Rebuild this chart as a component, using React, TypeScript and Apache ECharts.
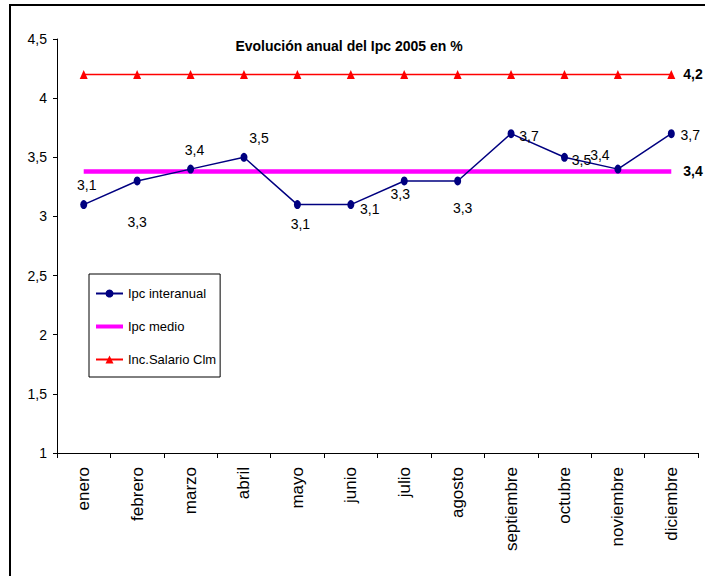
import React, { useEffect, useRef } from "react";
import * as echarts from "echarts";

// Meses del año
const months = [
  "enero", "febrero", "marzo", "abril", "mayo", "junio",
  "julio", "agosto", "septiembre", "octubre", "noviembre", "diciembre",
];

// Ipc interanual por mes (%)
const ipcInteranual = [3.1, 3.3, 3.4, 3.5, 3.1, 3.1, 3.3, 3.3, 3.7, 3.5, 3.4, 3.7];

// Ipc medio del año (%)
const ipcMedio = [3.38, 3.38, 3.38, 3.38, 3.38, 3.38, 3.38, 3.38, 3.38, 3.38, 3.38, 3.38];

// Incremento salarial (%)
const incSalario = [4.2, 4.2, 4.2, 4.2, 4.2, 4.2, 4.2, 4.2, 4.2, 4.2, 4.2, 4.2];

// Eje de valores
const yMin = 1;
const yMax = 4.5;
const yStep = 0.5;

// Desplazamiento de cada etiqueta del Ipc interanual respecto a su punto
const labelOffsets: [number, number][] = [
  [3, -20], [0, 41], [4, -19], [15, -19], [3, 19], [19, 4],
  [-4, 13], [5, 27], [18, 2], [17, 3], [-18, -14], [19, 1],
];

const SANS = '"Liberation Sans", Arial, sans-serif';

const fmt = (v: number) => v.toFixed(1).replace(".", ",");

export default function App() {
  const ref = useRef<HTMLDivElement>(null);

  useEffect(() => {
    if (!ref.current) return;
    const chart = echarts.init(ref.current, null, { renderer: "svg" });

    const option: echarts.EChartsOption = {
      animation: false,
      backgroundColor: "#ffffff",
      title: {
        text: "Evolución anual del Ipc 2005 en %",
        left: 344,
        top: 34,
        textAlign: "center",
        textStyle: { fontFamily: SANS, fontSize: 14, fontWeight: "bold", color: "#000" },
      },
      graphic: [
        {
          type: "rect",
          shape: { x: 10, y: 5, width: 800, height: 700 },
          style: { fill: "none", stroke: "#000", lineWidth: 2 },
          silent: true,
        },
      ],
      legend: {
        orient: "vertical",
        left: 89,
        top: 274,
        padding: [13, 4, 11, 6],
        itemGap: 20,
        itemWidth: 27,
        itemHeight: 10,
        backgroundColor: "#fff",
        borderColor: "#000",
        borderWidth: 1,
        borderRadius: 0,
        textStyle: { fontFamily: SANS, fontSize: 13, color: "#000" },
        data: [
          { name: "Ipc interanual" },
          {
            name: "Ipc medio",
            icon: "path://M0,0 L27,0 L27,4 L0,4 Z",
            itemStyle: { color: "#ff00ff" },
          },
          { name: "Inc.Salario Clm" },
        ],
      },
      grid: { left: 57, right: 7, top: 39, bottom: 123, containLabel: false },
      xAxis: {
        type: "category",
        data: months,
        boundaryGap: true,
        axisLine: { lineStyle: { color: "#000", width: 1 } },
        axisTick: { show: true, length: 5, alignWithLabel: false, lineStyle: { color: "#000" } },
        axisLabel: {
          interval: 0,
          rotate: 90,
          margin: 14,
          fontFamily: SANS,
          fontSize: 17,
          color: "#000",
        },
        splitLine: { show: false },
      },
      yAxis: {
        type: "value",
        min: yMin,
        max: yMax,
        interval: yStep,
        axisLine: { show: true, lineStyle: { color: "#000", width: 1 } },
        axisTick: { show: true, length: 4, lineStyle: { color: "#000" } },
        axisLabel: {
          margin: 10,
          fontFamily: SANS,
          fontSize: 14,
          color: "#000",
          formatter: (v: number) => String(v).replace(".", ","),
        },
        splitLine: { show: false },
      },
      series: [
        {
          name: "Inc.Salario Clm",
          type: "line",
          data: incSalario,
          symbol: "triangle",
          symbolSize: [8, 9],
          itemStyle: { color: "#ff0000" },
          lineStyle: { color: "#ff0000", width: 1.5 },
          endLabel: {
            show: true,
            distance: 12,
            formatter: (p: any) => fmt(p.value),
            fontFamily: SANS,
            fontSize: 14,
            fontWeight: "bold",
            color: "#000",
          },
          z: 2,
        },
        {
          name: "Ipc medio",
          type: "line",
          data: ipcMedio,
          symbol: "none",
          itemStyle: { color: "#ff00ff" },
          lineStyle: { color: "#ff00ff", width: 4.5 },
          endLabel: {
            show: true,
            distance: 12,
            formatter: (p: any) => fmt(p.value),
            fontFamily: SANS,
            fontSize: 14,
            fontWeight: "bold",
            color: "#000",
          },
          z: 2,
        },
        {
          name: "Ipc interanual",
          type: "line",
          symbol: "circle",
          symbolSize: [7, 9],
          itemStyle: { color: "#000080" },
          lineStyle: { color: "#000080", width: 1.5 },
          data: ipcInteranual.map((v, i) => ({
            value: v,
            label: {
              show: true,
              position: "inside",
              align: "center",
              verticalAlign: "middle",
              offset: labelOffsets[i],
              formatter: (p: any) => fmt(p.value),
              fontFamily: SANS,
              fontSize: 14,
              color: "#000",
            },
          })),
          z: 3,
        },
      ],
    };

    chart.setOption(option);
    return () => chart.dispose();
  }, []);

  return (
    <div
      ref={ref}
      style={{ position: "fixed", left: 0, top: 0, width: 705, height: 576, background: "#fff" }}
    />
  );
}
